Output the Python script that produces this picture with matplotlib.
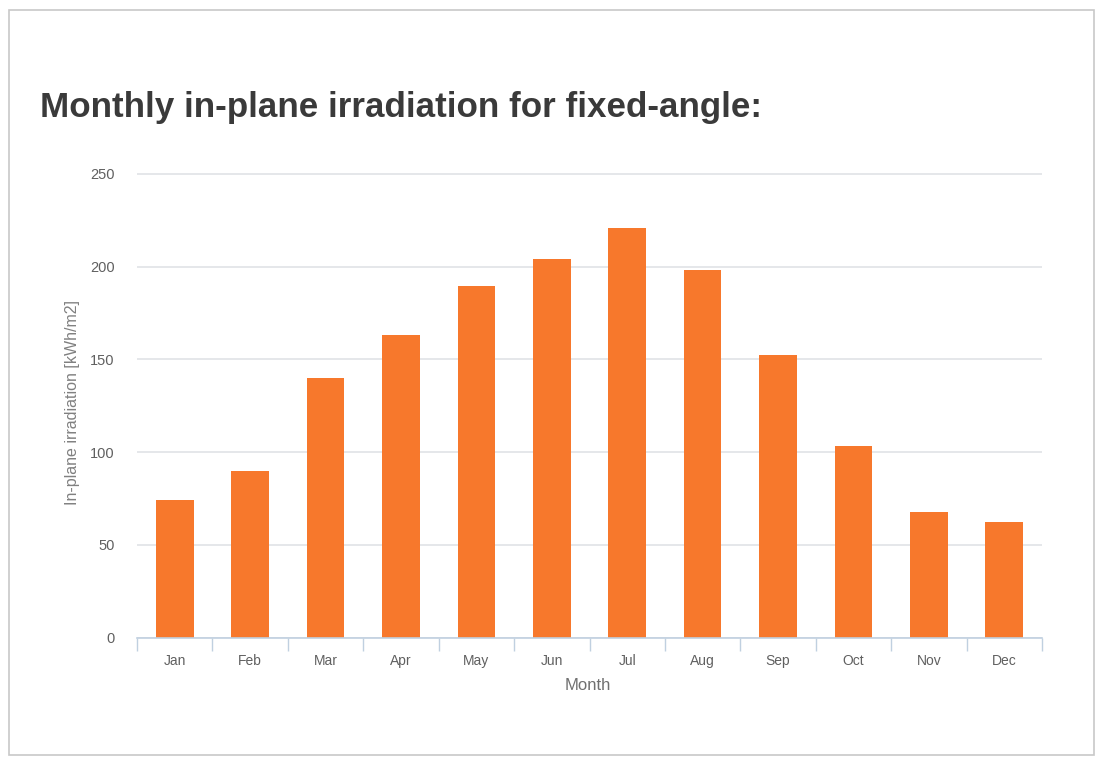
import matplotlib
matplotlib.use("Agg")
import matplotlib.pyplot as plt
from matplotlib.patches import Rectangle
from matplotlib.ticker import FixedLocator, NullFormatter

plt.rcParams['font.family'] = ['Liberation Sans', 'DejaVu Sans']

months = ["Jan", "Feb", "Mar", "Apr", "May", "Jun",
          "Jul", "Aug", "Sep", "Oct", "Nov", "Dec"]
irradiation = [74.1, 89.9, 139.7, 163.1, 189.5, 203.9,
               220.6, 198.1, 152.3, 103.4, 67.8, 62.1]
y_ticks = [0, 50, 100, 150, 200, 250]

title = "Monthly in-plane irradiation for fixed-angle:"
y_label = "In-plane irradiation [kWh/m2]"
x_label = "Month"

W, H = 1097, 758
fig = plt.figure(figsize=(W / 100, H / 100), dpi=100)
fig.patch.set_facecolor("white")

# card frame around the chart
fig.patches.append(Rectangle((9 / W, 1 - 755 / H), (1094 - 9) / W, (755 - 10) / H,
                             transform=fig.transFigure, facecolor="white",
                             edgecolor="#c8c8c8", linewidth=1.2, zorder=-10))

y_top = 252
px_per_unit = 1.855
ax_left, ax_right = 137 / W, 1042 / W
ax_bottom = 1 - 637.5 / H
ax_height = y_top * px_per_unit / H
ax = fig.add_axes([ax_left, ax_bottom, ax_right - ax_left, ax_height])
ax.set_zorder(5)
ax.set_facecolor("none")

x = list(range(len(months)))
ax.bar(x, irradiation, width=0.5, color="#f7782c", zorder=3)

ax.set_xlim(-0.5, len(months) - 0.5)
ax.set_ylim(0, y_top)

ax.set_yticks(y_ticks)
ax.set_yticklabels([str(v) for v in y_ticks])
ax.yaxis.grid(True, color="#e3e5e8", linewidth=1.3, zorder=0)
ax.set_axisbelow(True)
ax.tick_params(axis="y", length=0, pad=16, labelsize=10.5, labelcolor="#606060")

ax.set_xticks(x)
ax.set_xticklabels(months)
ax.tick_params(axis="x", which="major", length=0, pad=12, labelsize=10, labelcolor="#606060")
ax.xaxis.set_minor_locator(FixedLocator([i - 0.5 for i in range(len(months) + 1)]))
ax.xaxis.set_minor_formatter(NullFormatter())
ax.tick_params(axis="x", which="minor", length=9, width=1, color="#c0d0e0")

for side in ("top", "right", "left"):
    ax.spines[side].set_visible(False)
ax.spines["bottom"].set_color("#c0d0e0")
ax.spines["bottom"].set_linewidth(1.2)
ax.spines["bottom"].set_zorder(4)

fig.text(588 / W, 1 - 685 / H, x_label, ha="center", va="center",
         fontsize=12, color="#707070")
fig.text(72 / W, 1 - 402 / H, y_label, ha="center", va="center",
         rotation=90, fontsize=11.5, color="#808080")

fig.text(40 / W, 1 - 108 / H, title, ha="left", va="center",
         fontsize=25.2, fontweight="bold", color="#3a3a3a")

fig.savefig("out.png", dpi=100, facecolor="white")
